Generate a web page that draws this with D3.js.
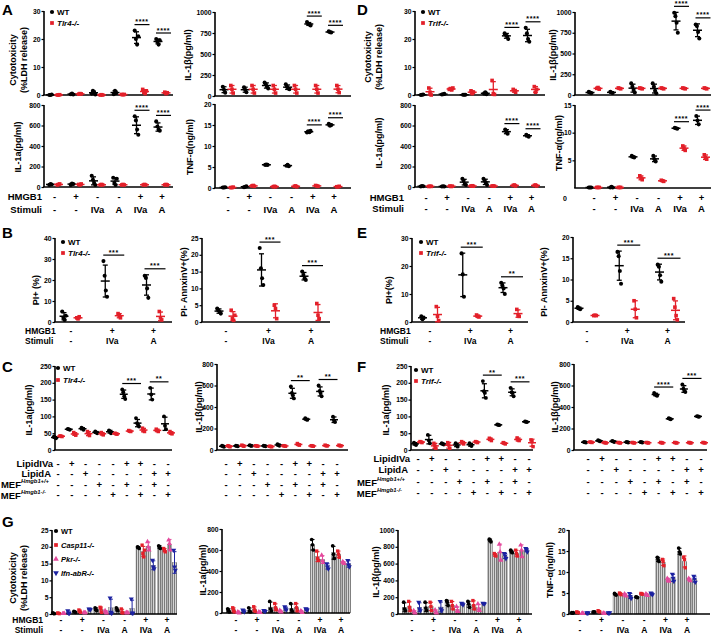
<!DOCTYPE html>
<html><head><meta charset="utf-8">
<script src="https://cdn.jsdelivr.net/npm/d3@7"></script>
<style>body{margin:0;background:#fff;}</style>
</head><body>
<svg id="chart" width="713" height="637"></svg>
<script>
// ================= DATA =================
// sign rows / categories
const hmgb1Row = ["-","+","-","-","+","+"];
const stimuliRow = ["-","-","IVa","A","IVa","A"];
const hmgb1RowB = ["-","+","+"];
const stimuliRowB = ["-","IVa","A"];
const lipidIVaRow = ["-","+","-","-","-","+","+","-","-"];
const lipidARow   = ["-","-","+","-","-","-","-","+","+"];
const mefWTRow    = ["-","-","-","+","-","+","-","+","-"];
const mefKORow    = ["-","-","-","-","+","-","+","-","+"];

// tick labels
const ticks30 = [0,10,20,30];
const ticks800 = [0,200,400,600,800];
const ticks1000q = [0,250,500,750,1000];
const ticks20 = [0,5,10,15,20];
const ticks15 = [5,10,15];
const ticks40 = [0,10,20,30,40];
const ticks25 = [0,5,10,15,20,25];
const ticks250 = [0,50,100,150,200,250];
const ticks1000 = [0,200,400,600,800,1000];

// Panel A (Tlr4)
const A1_WT = [[0,0,0.2],[0.3,0.5,0.2],[0.5,1.5,1.0,0.2],[0.3,1.5,0.8],[23,20,18,21],[20,19,18,19.5]];
const A1_KO = [[0,0,0.1],[0.3,0.5,0.4],[0,0.1,0],[0.2,0.1,0.2],[2,1,0.5,1.5],[1,0.5,0.8]];
const A2_WT = [[20,30,25],[20,35,30],[110,70,40,20],[90,40,20,80],[690,650,560,510],[640,590,560,550]];
const A2_KO = [[20,25,30],[25,20,30],[20,25,20],[20,25,20],[20,25,20],[20,25,20]];
const A3_WT = [[110,75,40],[105,75,45],[160,140,110,90],[140,110,90,80],[880,860,850,840],[770,760,755]];
const A3_KO = [[125,80,35],[125,80,35],[125,80,35],[125,80,35],[125,80,35],[125,80,40]];
const A4_WT = [[0.1,0.1,0.2],[0.2,0.3,0.4],[5.5,5.6,5.5],[5.3,5.5,5.2],[13.2,13.5,13.3,13.6],[15.3,14.8,15.0]];
const A4_KO = [[0.1,0.1,0.2],[0.5,0.6,0.4],[0.3,0.4,0.3],[0.4,0.5,0.3],[0.6,0.5,0.4],[0.3,0.3,0.4]];

// Panel D (Trif)
const D1_WT = [[0,0.1,0.2],[0.2,0.3,0.4],[0.1,0.1,0.1],[0.5,1.0,0.3],[22,21.5,21,20],[24,22,20,19]];
const D1_KO = [[2.5,1,0],[2.0,2.3,1.8,2.5],[1.5,0.5,1.0],[5.2,0.5,0.2],[2,1.5,1.0],[3,1,2]];
const D2_WT = [[5,10,8],[5,8,5],[80,60,30,20],[80,60,40,20],[560,540,520],[510,500,490]];
const D2_KO = [[5,8,6],[10,5,8],[10,12,8],[10,10,8],[15,20,10],[15,20,10]];
const D3_WT = [[40,30,20],[40,30,25],[140,100,60,30],[140,100,50,20],[990,950,870,750],[850,830,760,680]];
const D3_KO = [[80,90,70],[85,80,75],[85,80,75],[85,80,75],[85,80,75],[85,80,75]];
const D4_WT = [[0.1,0.1,0.1],[0.1,0.2,0.1],[5.8,5.6,5.5],[5.8,5.2,4.8],[10.9,10.8,10.7],[13,12.2,11.5]];
const D4_KO = [[0.1,0.1,0.1],[0.1,0.1,0.1],[2.2,1.8,1.5],[1.4,1.3,1.2],[7.6,7.2,6.8],[6.0,5.5,5.2]];

// Panel B (Tlr4) & E (Trif)
const B1_WT = [[5,2,1,3],[29,22,15,12],[22,21,16,11.5]];
const B1_KO = [[2,1.5,2.5],[4,3,2],[5,2,1]];
const B2_WT = [[4,3.5,3,2.5],[22,16,13,11],[15,14,13,12.5]];
const B2_KO = [[3.5,1,0.5,2],[5,4,1],[5.5,2,1]];
const E1_WT = [[2,1,1.5],[24.5,17,9],[14,13,12,10]];
const E1_KO = [[5.5,2,0.5],[2.5,2,1.8],[4.5,2.5,2]];
const E2_WT = [[3.5,3.2,3.0],[16.5,15.5,12,9],[13.5,13,11,9.5]];
const E2_KO = [[1.5,1.6,1.5],[5,3,1],[5.5,3.5,1.5,0.5]];

// Panel C (Tlr4) & F (Trif)
const C1_WT = [[40,37,35],[63,62,60],[66,64,60],[55,52,50],[58,55,50],[180,172,160,152],[95,80,75,70],[185,165,150],[100,72,62]];
const C1_KO = [[42,41,40],[52,47,44],[55,48,43],[52,48,45],[50,48,47],[58,56,55],[65,58,55],[62,58,55],[55,50,48]];
const C2_WT = [[40,35,30],[40,38,35],[45,40,38],[40,38,35],[55,45,40],[590,530,510,480],[295,285,280],[600,550,530,500],[310,275,260]];
const C2_KO = [[40,35,30],[45,40,35],[40,38,35],[35,33,30],[40,38,35],[60,50,45],[40,38,35],[45,40,38],[45,40,38]];
const F1_WT = [[22,18,15],[45,28,20],[20,18,16],[20,15,10],[20,15,12],[205,175,170,155],[76,75,74],[185,172,170,160],[85,84,83]];
const F1_KO = [[25,24,22],[20,12,5],[22,15,5],[25,22,18],[25,24,22],[35,32,28],[22,20,18],[36,30,28],[30,25,10]];
const F2_WT = [[75,72,70],[90,85,80],[85,80,75],[75,72,70],[75,72,70],[530,520,510,505],[295,290,285],[610,570,550,540],[315,312,310]];
const F2_KO = [[75,72,70],[70,68,65],[70,68,65],[70,68,65],[70,68,65],[70,68,65],[70,68,65],[70,68,65],[70,68,65]];

// Panel G (WT, Casp11, Pkr, Ifn-abR)
const G1_WT   = [[0.3,0.2,0.1],[0.8,0.6,0.5],[1.8,1.5,1.0],[1.8,1.2,1.0],[20,19.8,19.5],[20.3,20,19.5]];
const G1_CASP = [[0.3,0.2,0.1],[1.2,0.8,0.5],[2,1.5,0.5],[1.5,0.5,0.3],[20.5,18,17,19],[19.5,19,18.5]];
const G1_PKR  = [[0.1,0.1,0.2],[0.5,0.3,0.4],[1.0,0.5,0.3],[0.5,0.3,0.4],[21.5,20,19],[22,21,19]];
const G1_IFN  = [[1.0,0.3,0.2],[1.5,1.4,1.3],[4.8,0.5,0.2],[4.5,0.3,0.2],[16,14,13.5],[19,14,13]];
const G2_WT   = [[40,25,10],[50,20,10],[110,40,20],[90,30,15],[700,650,600],[640,560,520]];
const G2_CASP = [[50,30,10],[60,30,15],[90,50,30],[90,50,20],[590,520,500],[590,560,530]];
const G2_PKR  = [[10,5,0],[10,5,5],[25,15,10],[20,15,5],[550,500,480],[490,480,470]];
const G2_IFN  = [[30,20,10],[25,20,15],[60,40,30],[40,35,30],[470,440,420],[500,460,440]];
const G3_WT   = [[140,60,40],[140,70,40],[160,140,100],[150,120,80],[890,880,860],[760,740,730]];
const G3_CASP = [[150,80,40],[140,90,40],[150,100,60],[160,100,60],[720,700,690],[760,720,690]];
const G3_PKR  = [[40,20,10],[50,20,10],[90,40,30],[120,60,40],[830,740,640],[820,760,680]];
const G3_IFN  = [[140,60,40],[150,60,40],[130,120,110],[130,125,120],[720,690,660],[780,760,740]];
const G4_WT   = [[0.3,0.2,0.3],[0.5,0.4,0.5],[4.9,4.7,4.5],[4.1,4.0,3.9],[13.5,13,12.5],[15.7,14.8,14.3]];
const G4_CASP = [[0.5,0.4,0.3],[0.8,0.6,0.5],[5.0,4.8,4.6],[4.9,4.8,4.7],[13,12.5,11.5],[13.5,13,11]];
const G4_PKR  = [[0.1,0.2,0.1],[0.2,0.2,0.1],[4.8,4.5,4.3],[4.8,4.6,4.4],[8.5,8.1,7.8],[8.5,8.2,7.9]];
const G4_IFN  = [[0.3,0.2,0.3],[0.3,0.2,0.3],[4.9,4.2,3.7],[5.0,4.8,4.6],[9.5,8.5,7.8],[9,8.3,7.6]];

// ================= DRAWING =================
const FONT = "'Liberation Sans', Arial, Helvetica, sans-serif";
const BLACK="#000", RED="#e3202a", PINK="#e44a9d", BLUE="#1c22a0";
const svg = d3.select("#chart");
svg.append("rect").attr("width",713).attr("height",637).attr("fill","#fff");
const defs = svg.append("defs");
const pat = defs.append("pattern").attr("id","stripes").attr("patternUnits","userSpaceOnUse").attr("width",2).attr("height",4);
pat.append("rect").attr("width",2).attr("height",4).attr("fill","#d4d4d4");
pat.append("rect").attr("width",0.9).attr("height",4).attr("fill","#707070");

function T(x,y,s,o={}){
  const t = svg.append("text").attr("x",x).attr("y",y).text(s)
    .attr("font-family",FONT).attr("font-size",o.fs||10).attr("font-weight",o.fw||"bold")
    .attr("text-anchor",o.anchor||"start").attr("fill",o.fill||"#000")
    .attr("dominant-baseline","central");
  if(o.italic) t.attr("font-style","italic");
  if(o.rot) t.attr("transform",`rotate(-90,${x},${y})`);
  return t;
}
function symPath(shape,size){
  const t = {circle:d3.symbolCircle, square:d3.symbolSquare, tri:d3.symbolTriangle, tridown:d3.symbolTriangle}[shape];
  return d3.symbol().type(t).size(size)();
}
function drawSym(g,shape,x,y,color,size){
  g.append("path").attr("d",symPath(shape,size))
   .attr("transform",`translate(${x},${y})${shape==="tridown"?" rotate(180)":""}`)
   .attr("fill",color);
}

function drawPanel(p){
  const g = svg.append("g");
  const y = d3.scaleLinear().domain([0,p.max]).range([p.yb,p.yt]);
  const n = p.series[0].data.length;
  const x = d3.scalePoint().domain(d3.range(n)).range([p.c0,p.c1]);
  const sub = d3.scalePoint().domain(d3.range(p.series.length)).range(p.sub);
  if(p.bars){
    p.series.forEach((s,si)=>{
      g.selectAll(null).data(s.data).join("rect")
        .attr("x",(d,gi)=>x(gi)+sub(si)-p.bw/2).attr("width",p.bw)
        .attr("y",d=>y(d3.mean(d))).attr("height",d=>y(0)-y(d3.mean(d)))
        .attr("fill","url(#stripes)").attr("stroke","#555").attr("stroke-width",0.3);
    });
  }
  const ax = g.append("g").attr("transform",`translate(${p.ax},0)`)
    .call(d3.axisLeft(y).tickValues(p.ticks).tickSize(2.5).tickSizeOuter(0).tickPadding(1).tickFormat(d3.format("d")));
  ax.select(".domain").attr("stroke-width",1.6).attr("d",`M0,${p.yb}V${p.yt}`);
  ax.selectAll(".tick line").attr("stroke-width",1.2);
  ax.selectAll(".tick text").attr("font-size",6.8).attr("font-weight","bold").attr("font-family",FONT);
  g.append("line").attr("x1",p.ax-0.8).attr("x2",p.axEnd).attr("y1",y(0)).attr("y2",y(0))
    .attr("stroke","#000").attr("stroke-width",1.7);
  const tops = [];
  p.series.forEach((s,si)=>{
    s.data.forEach((vals,gi)=>{
      const cx = x(gi)+sub(si);
      const m = d3.mean(vals), sd = vals.length>1 ? d3.deviation(vals) : 0;
      const lo = Math.max(0,m-sd), hi = m+sd;
      const top = Math.min(y(hi), y(d3.max(vals)));
      if(!tops[gi]) tops[gi]=[];
      tops[gi][si]=top;
      vals.forEach((v,k)=>drawSym(g,s.shape,cx+(k-(vals.length-1)/2)*p.jit,y(v),s.color,p.ms));
      const lw = p.bars?1:1.3;
      g.append("line").attr("x1",cx).attr("x2",cx).attr("y1",y(lo)).attr("y2",y(hi)).attr("stroke",s.color).attr("stroke-width",lw);
      [lo,hi].forEach(v=>g.append("line").attr("x1",cx-p.cap).attr("x2",cx+p.cap).attr("y1",y(v)).attr("y2",y(v)).attr("stroke",s.color).attr("stroke-width",lw));
      if(!p.bars) g.append("line").attr("x1",cx-p.mw).attr("x2",cx+p.mw).attr("y1",y(m)).attr("y2",y(m)).attr("stroke",s.color).attr("stroke-width",1.5);
    });
  });
  (p.sig||[]).forEach(sg=>{
    let x1,x2;
    if(sg.a===sg.b){ x1 = x(sg.a)+sub(0)-2; x2 = x(sg.a)+sub(p.series.length-1)+5; }
    else { x1 = x(sg.a)+sub(0)-1.5; x2 = x(sg.b)+sub(0)+3.5; }
    const yl = Math.min(...d3.range(sg.a,sg.b+1).map(gi=>tops[gi][0])) - 6;
    g.append("line").attr("x1",x1).attr("x2",x2).attr("y1",yl).attr("y2",yl).attr("stroke","#000").attr("stroke-width",1.2);
    T((x1+x2)/2,yl-3,sg.l,{fs:7,anchor:"middle"}).attr("letter-spacing",0.6);
  });
  if(p.ylab){
    p.ylab.lines.forEach((ln,i)=>T(p.ylab.x+i*11,p.ylab.y,ln,{fs:p.ylab.fs||9,anchor:"middle",rot:true}));
  }
  return {x,y};
}
function signRow(xs,vals,yy,fs){ vals.forEach((v,i)=>T(xs(i),yy,v,{fs:fs||10,anchor:"middle"})); }
function legend(x,y0,dy,items,fs){
  items.forEach((it,i)=>{
    const yy=y0+i*dy;
    drawSym(svg,it.shape,x,yy,it.color,14);
    T(x+5,yy,it.label,{fs:fs||8,italic:it.italic});
  });
}
const WT = (d)=>({shape:"circle",color:BLACK,data:d});
const KO = (d)=>({shape:"square",color:RED,data:d});
const dot = {sub:[-4,4],jit:1.2,ms:13,cap:2.5,mw:4.5};

// ---- Panel A ----
T(2,9,"A",{fs:15});
const pA1 = drawPanel({...dot,ax:44,axEnd:173,yb:95,yt:11,max:30,ticks:ticks30,c0:54.5,c1:162,series:[WT(A1_WT),KO(A1_KO)],
  sig:[{a:4,b:4,l:"****"},{a:5,b:5,l:"****"}],ylab:{lines:["Cytotoxicity","(%LDH release)"],x:13,y:60}});
drawPanel({...dot,ax:44,axEnd:173,yb:187,yt:105,max:800,ticks:ticks800,c0:54.5,c1:162,series:[WT(A2_WT),KO(A2_KO)],
  sig:[{a:4,b:4,l:"****"},{a:5,b:5,l:"****"}],ylab:{lines:["IL-1a(pg/ml)"],x:18,y:147}});
const pA3 = drawPanel({...dot,ax:215,axEnd:351,yb:96,yt:12,max:1000,ticks:ticks1000q,c0:228,c1:334,series:[WT(A3_WT),KO(A3_KO)],
  sig:[{a:4,b:4,l:"****"},{a:5,b:5,l:"****"}],ylab:{lines:["IL-1β(pg/ml)"],x:188,y:55}});
drawPanel({...dot,ax:215,axEnd:351,yb:188,yt:104,max:20,ticks:ticks20,c0:228,c1:334,series:[WT(A4_WT),KO(A4_KO)],
  sig:[{a:4,b:4,l:"****"},{a:5,b:5,l:"****"}],ylab:{lines:["TNF-α(ng/ml)"],x:190,y:147}});
legend(52,12,11,[{shape:"circle",color:BLACK,label:"WT"},{shape:"square",color:RED,label:"Tlr4-/-",italic:true}]);
T(42,196,"HMGB1",{anchor:"end",fs:9.5}); T(42,209,"Stimuli",{anchor:"end",fs:9.5});
signRow(pA1.x,hmgb1Row,196,9.5); signRow(pA1.x,stimuliRow,209,9.5);
signRow(pA3.x,hmgb1Row,196,9.5); signRow(pA3.x,stimuliRow,209,9.5);

// ---- Panel D ----
T(357,9,"D",{fs:15});
const pD1 = drawPanel({...dot,ax:415,axEnd:545,yb:95,yt:11,max:30,ticks:ticks30,c0:426,c1:531.5,series:[WT(D1_WT),KO(D1_KO)],
  sig:[{a:4,b:4,l:"****"},{a:5,b:5,l:"****"}],ylab:{lines:["Cytotoxicity","(%LDH release)"],x:368,y:57}});
drawPanel({...dot,ax:415,axEnd:545,yb:187,yt:105,max:800,ticks:ticks800,c0:426,c1:531.5,series:[WT(D2_WT),KO(D2_KO)],
  sig:[{a:4,b:4,l:"****"},{a:5,b:5,l:"****"}],ylab:{lines:["IL-1a(pg/ml)"],x:379,y:143}});
const pD3 = drawPanel({...dot,ax:575,axEnd:711,yb:95,yt:12,max:1000,ticks:ticks1000q,c0:594,c1:701.5,series:[WT(D3_WT),KO(D3_KO)],
  sig:[{a:4,b:4,l:"****"},{a:5,b:5,l:"****"}],ylab:{lines:["IL-1β(pg/ml)"],x:553,y:55}});
drawPanel({...dot,ax:575,axEnd:711,yb:188,yt:105,max:15,ticks:ticks15,c0:594,c1:701.5,series:[WT(D4_WT),KO(D4_KO)],
  sig:[{a:4,b:4,l:"****"},{a:5,b:5,l:"****"}],ylab:{lines:["TNF-α(ng/ml)"],x:559,y:143}});
T(565,198,"0",{fs:7,anchor:"middle"});
legend(423,12,11,[{shape:"circle",color:BLACK,label:"WT"},{shape:"square",color:RED,label:"Trif-/-",italic:true}]);
T(404,197,"HMGB1",{anchor:"end",fs:9.5}); T(404,208.5,"Stimuli",{anchor:"end",fs:9.5});
signRow(pD1.x,hmgb1Row,197,9.5); signRow(pD1.x,stimuliRow,208.5,9.5);
signRow(pD3.x,hmgb1Row,197,9.5); signRow(pD3.x,stimuliRow,208.5,9.5);

// ---- Panel B ----
const dotB = {...dot,jit:1.2};
T(2,232,"B",{fs:15});
const pB1 = drawPanel({...dotB,sub:[-7,7],ax:55,axEnd:172,yb:322,yt:238,max:40,ticks:ticks40,c0:71,c1:153.5,series:[WT(B1_WT),KO(B1_KO)],
  sig:[{a:1,b:1,l:"***"},{a:2,b:2,l:"***"}],ylab:{lines:["PI+ (%)"],x:36,y:290}});
const pB2 = drawPanel({...dotB,sub:[-7,7],ax:202,axEnd:330,yb:322,yt:238,max:25,ticks:ticks25,c0:226,c1:311,series:[WT(B2_WT),KO(B2_KO)],
  sig:[{a:1,b:1,l:"***"},{a:2,b:2,l:"***"}],ylab:{lines:["PI- AnnxinV+(%)"],x:184,y:282}});
legend(63,242,11,[{shape:"circle",color:BLACK,label:"WT"},{shape:"square",color:RED,label:"Tlr4-/-",italic:true}]);
T(25,330.5,"HMGB1",{fs:8.5}); T(25,340.5,"Stimuli",{fs:8.5});
signRow(pB1.x,hmgb1RowB,330.5,8.5); signRow(pB1.x,stimuliRowB,340.5,8.5);
signRow(pB2.x,hmgb1RowB,330.5,8.5); signRow(pB2.x,stimuliRowB,340.5,8.5);

// ---- Panel E ----
T(357,232,"E",{fs:15});
const pE1 = drawPanel({...dotB,sub:[-7.5,7.5],ax:412,axEnd:528,yb:322,yt:238,max:30,ticks:ticks30,c0:430,c1:510.5,series:[WT(E1_WT),KO(E1_KO)],
  sig:[{a:1,b:1,l:"***"},{a:2,b:2,l:"**"}],ylab:{lines:["PI+(%)"],x:389,y:290}});
const pE2 = drawPanel({...dotB,sub:[-8,8],ax:573,axEnd:685,yb:322,yt:237,max:20,ticks:ticks20,c0:587,c1:667.5,series:[WT(E2_WT),KO(E2_KO)],
  sig:[{a:1,b:1,l:"***"},{a:2,b:2,l:"***"}],ylab:{lines:["PI- AnnxinV+(%)"],x:544,y:282}});
legend(421,242,11,[{shape:"circle",color:BLACK,label:"WT"},{shape:"square",color:RED,label:"Trif-/-",italic:true}]);
T(380,330.5,"HMGB1",{fs:8.5}); T(380,340.5,"Stimuli",{fs:8.5});
signRow(pE1.x,hmgb1RowB,330.5,8.5); signRow(pE1.x,stimuliRowB,340.5,8.5);
signRow(pE2.x,hmgb1RowB,330.5,8.5); signRow(pE2.x,stimuliRowB,340.5,8.5);

// ---- Panel C ----
const dotC = {...dot,sub:[-3,3],jit:1.0,ms:12,cap:2.5,mw:4};
T(2,366,"C",{fs:15});
const pC1 = drawPanel({...dotC,ax:55,axEnd:172,yb:450,yt:366,max:250,ticks:ticks250,c0:58,c1:168,series:[WT(C1_WT),KO(C1_KO)],
  sig:[{a:5,b:6,l:"***"},{a:7,b:8,l:"**"}],ylab:{lines:["IL-1a(pg/ml)"],x:29,y:410}});
const pC2 = drawPanel({...dotC,ax:217,axEnd:348,yb:450,yt:364,max:800,ticks:ticks800,c0:226,c1:337,series:[WT(C2_WT),KO(C2_KO)],
  sig:[{a:5,b:6,l:"**"},{a:7,b:8,l:"**"}],ylab:{lines:["IL-1β(pg/ml)"],x:199,y:407}});
legend(58,368,12,[{shape:"circle",color:BLACK,label:"WT"},{shape:"square",color:RED,label:"Tlr4-/-",italic:true}]);
function mefLabel(x,y,sup){
  const t = T(x,y,"MEF",{anchor:"end",fs:9.5});
  t.append("tspan").attr("font-size",5.8).attr("font-style","italic").attr("dy",-3).text(sup);
}
T(53,463,"LipidIVa",{anchor:"end",fs:9.5}); T(51,473.5,"LipidA",{anchor:"end",fs:9.5});
mefLabel(49,484,"Hmgb1+/+"); mefLabel(46,495,"Hmgb1-/-");
[[lipidIVaRow,463],[lipidARow,473.5],[mefWTRow,484],[mefKORow,494.5]].forEach(([r,yy])=>{signRow(pC1.x,r,yy,9.5);signRow(pC2.x,r,yy,9.5);});

// ---- Panel F ----
T(357,366,"F",{fs:15});
const pF1 = drawPanel({...dotC,ax:411,axEnd:533,yb:450,yt:366,max:250,ticks:ticks250,c0:418,c1:529,series:[WT(F1_WT),KO(F1_KO)],
  sig:[{a:5,b:6,l:"**"},{a:7,b:8,l:"***"}],ylab:{lines:["IL-1a(pg/ml)"],x:386,y:410}});
const pF2 = drawPanel({...dotC,ax:574,axEnd:707,yb:450,yt:364,max:800,ticks:ticks800,c0:588,c1:701,series:[WT(F2_WT),KO(F2_KO)],
  sig:[{a:5,b:6,l:"****"},{a:7,b:8,l:"***"}],ylab:{lines:["IL-1β(pg/ml)"],x:555,y:407}});
legend(416,370,11,[{shape:"circle",color:BLACK,label:"WT"},{shape:"square",color:RED,label:"Trif-/-",italic:true}]);
T(410,458.5,"LipidIVa",{anchor:"end",fs:9.5}); T(408,469.5,"LipidA",{anchor:"end",fs:9.5});
mefLabel(405,482,"Hmgb1+/+"); mefLabel(402,493,"Hmgb1-/-");
[[lipidIVaRow,458.5],[lipidARow,469.5],[mefWTRow,481],[mefKORow,492]].forEach(([r,yy])=>{signRow(pF1.x,r,yy,9.5);signRow(pF2.x,r,yy,9.5);});

// ---- Panel G ----
T(2,521,"G",{fs:15});
const gS = (w,c,p,i)=>[{shape:"circle",color:BLACK,data:w},{shape:"square",color:RED,data:c},{shape:"tri",color:PINK,data:p},{shape:"tridown",color:BLUE,data:i}];
const barCfg = {bars:true,bw:4.6,sub:[-7.5,7.5],jit:0.8,ms:11,cap:2,mw:0};
const pG1 = drawPanel({...barCfg,ax:52,axEnd:177,yb:614,yt:530,max:25,ticks:ticks25,c0:61,c1:167,series:gS(G1_WT,G1_CASP,G1_PKR,G1_IFN),
  ylab:{lines:["Cytotoxicity","(%LDH release)"],x:13,y:578}});
const pG2 = drawPanel({...barCfg,ax:222,axEnd:350,yb:613,yt:529,max:800,ticks:ticks800,c0:236,c1:341,series:gS(G2_WT,G2_CASP,G2_PKR,G2_IFN),
  ylab:{lines:["IL-1a(pg/ml)"],x:203,y:570}});
const pG3 = drawPanel({...barCfg,ax:398,axEnd:532,yb:614,yt:530,max:1000,ticks:ticks1000,c0:412,c1:519,series:gS(G3_WT,G3_CASP,G3_PKR,G3_IFN),
  ylab:{lines:["IL-1β(pg/ml)"],x:376,y:572}});
const pG4 = drawPanel({...barCfg,ax:569,axEnd:710,yb:614,yt:530,max:20,ticks:ticks20,c0:580,c1:687,series:gS(G4_WT,G4_CASP,G4_PKR,G4_IFN),
  ylab:{lines:["TNF-α(ng/ml)"],x:550,y:570}});
legend(56,531,14,[{shape:"circle",color:BLACK,label:"WT"},{shape:"square",color:RED,label:"Casp11-/-",italic:true},
  {shape:"tri",color:PINK,label:"Pkr-/-",italic:true},{shape:"tridown",color:BLUE,label:"Ifn-abR-/-",italic:true}],7.5);
T(43,620,"HMGB1",{anchor:"end",fs:8.5}); T(43,629.5,"Stimuli",{anchor:"end",fs:8.5});
[pG1,pG2,pG3,pG4].forEach(p=>{signRow(p.x,hmgb1Row,620,8.5);signRow(p.x,stimuliRow,629.5,8.5);});
</script>
</body></html>
